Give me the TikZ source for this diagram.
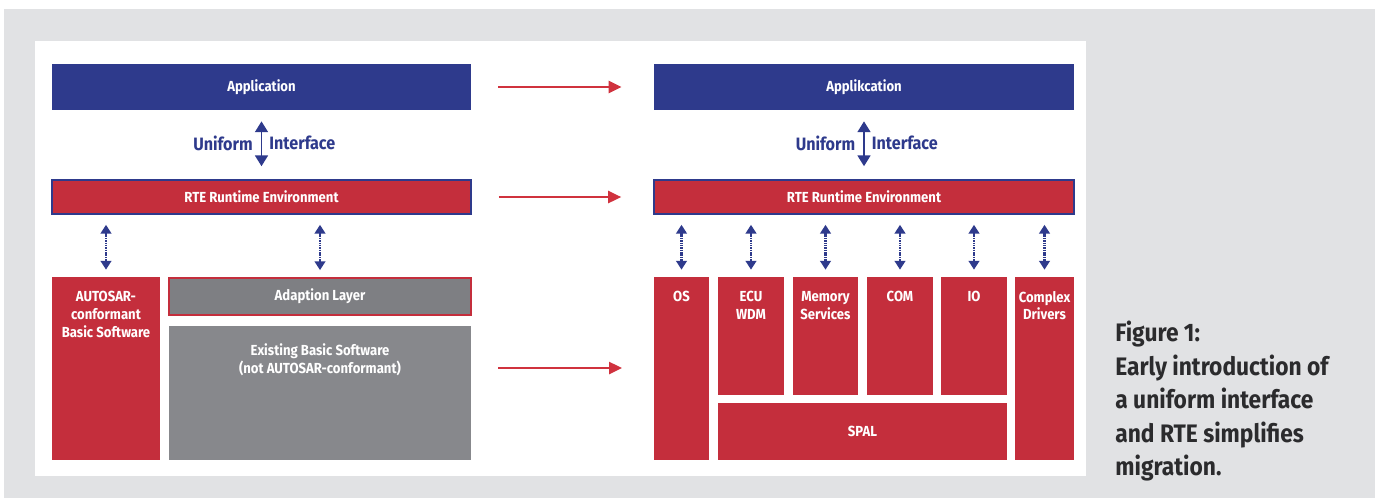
\documentclass[tikz,border=0pt]{standalone}
\usepackage{fontspec}
\setsansfont{Fira Sans}
\newfontfamily\boxfont[FakeStretch=0.9]{Fira Sans}
\newfontfamily\capfont[FakeStretch=0.9]{Fira Sans}
\usepackage{xcolor}
\usetikzlibrary{arrows.meta,positioning}

\definecolor{autoblue}{HTML}{2E3A8C}
\definecolor{autored}{HTML}{C42E3C}
\definecolor{arrowred}{HTML}{D0323E}
\definecolor{adaptgray}{HTML}{7E7F83}
\definecolor{basegray}{HTML}{87888C}
\definecolor{panelgray}{HTML}{E1E2E4}
\definecolor{captext}{HTML}{2B2B2D}

\begin{document}
\begin{tikzpicture}[
      x=0.02cm, y=-0.02cm,
      size/.style 2 args={
         minimum width=#1*0.02cm,
         minimum height=#2*0.02cm,
         inner sep=0pt},
      box_blue/.style={
         fill=autoblue,
         text=white,
         font=\boxfont\bfseries\fontsize{8.3}{10.2}\selectfont},
      box_rte/.style={
         fill=autored,
         draw=autoblue,
         line width=0.9pt,
         text=white,
         font=\boxfont\bfseries\fontsize{8.3}{10.2}\selectfont},
      box_red/.style={
         fill=autored,
         text=white,
         font=\boxfont\bfseries\fontsize{8.3}{10.2}\selectfont},
      box_adapt/.style={
         fill=adaptgray,
         draw=autored,
         line width=1pt,
         text=white,
         font=\boxfont\bfseries\fontsize{8.3}{10.2}\selectfont},
      box_old/.style={
         fill=basegray},
      blk_txt/.style={
         text=white,
         align=center,
         inner sep=0pt,
         font=\boxfont\bfseries\fontsize{8.3}{10.2}\selectfont},
      uni_txt/.style={
         text=autoblue,
         inner sep=0pt,
         font=\boxfont\bfseries\fontsize{10.2}{12}\selectfont},
      arrow_uni/.style={
         {Triangle[width=7.4pt,length=6.2pt]}-{Triangle[width=7.4pt,length=6.2pt]},
         draw=autoblue,
         line width=1pt,
         shorten <=0.22cm,
         shorten >=0.26cm},
      arrow_link/.style={
         {Triangle[width=6pt,length=5pt]}-{Triangle[width=6pt,length=5pt]},
         draw=autoblue,
         line width=1.3pt,
         dash pattern=on 0.9pt off 0.45pt,
         shorten <=0.2cm,
         shorten >=0.14cm},
      arrow_mig/.style={
         -{Triangle[width=6.8pt,length=7.4pt]},
         draw=arrowred,
         line width=1.5pt}
]
      \useasboundingbox (0,0) rectangle (1375,498);
      % backdrop
      \fill[panelgray] (4,9) rectangle (1375,498);
      \fill[white] (35,41) rectangle (1086,476);

      %old structure
      \node[box_blue, size={419}{46}] (app) at (261.5,87) {Application};
      \node[box_rte, size={419}{34}] (rte) at (261.5,197) {RTE Runtime Environment};
      \node[box_red, size={108}{183}] (bsw) at (106,368.5) {};
      \node[blk_txt, below=0.28cm of bsw.north] (bsw_txt) {AUTOSAR-\\conformant\\Basic Software};
      \node[box_adapt, size={302}{37}] (adapt) at (320,296.5) {Adaption Layer};
      \node[box_old, size={302}{134}] (old) at (320,393) {};
      \node[blk_txt, below=0.36cm of old.north] (old_txt) {Existing Basic Software\\(not AUTOSAR-conformant)};

      %new structure
      \node[box_blue, size={420}{46}] (app2) at (864,87) {Applikcation};
      \node[box_rte, size={420}{34}] (rte2) at (864,197) {RTE Runtime Environment};
      \node[box_red, size={55}{183}] (os) at (681.5,368.5) {};
      \node[box_red, size={66}{118}] (ecu) at (751,336) {};
      \node[box_red, size={65}{118}] (mem) at (825.5,336) {};
      \node[box_red, size={66}{118}] (com) at (900,336) {};
      \node[box_red, size={66}{118}] (io) at (974,336) {};
      \node[box_red, size={59}{183}] (cdrv) at (1044.5,368.5) {};
      \node[box_red, size={289}{57}] (spal) at (862.5,431.5) {SPAL};

      \foreach \b/\txt in {%block/text
        os/OS,
        ecu/ECU\\WDM,
        mem/Memory\\Services,
        com/COM,
        io/IO,
        cdrv/Complex\\Drivers}
        \node[blk_txt, below=0.28cm of \b.north] (\b_txt) {\txt};

      %interfaces
      \draw[arrow_uni] (app.south) -- node[uni_txt, left=4.5pt, yshift=1pt] (uni_l) {Uniform}
                        node[uni_txt, right=4pt, yshift=1pt] (uni_r) {Interface} (rte.north);
      \draw[arrow_uni] (app2.south) -- node[uni_txt, left=4.5pt, yshift=1pt] (uni2_l) {Uniform}
                        node[uni_txt, right=4pt, yshift=1pt] (uni2_r) {Interface} (rte2.north);

      \foreach \b in {bsw,adapt}
        \draw[arrow_link] (rte.south -| \b.north) -- (\b.north);
      \foreach \b in {os,ecu,mem,com,io,cdrv}
        \draw[arrow_link] (rte2.south -| \b.north) -- (\b.north);

      %migration
      \coordinate (mig_a) at (498,368);
      \coordinate (mig_b) at (622,368);
      \draw[arrow_mig, shorten <=0.54cm, shorten >=0.64cm] (app) -- (app2);
      \draw[arrow_mig, shorten <=0.54cm, shorten >=0.64cm] (rte) -- (rte2);
      \draw[arrow_mig] (mig_a) -- (mig_b);

      %caption
      \node[anchor=north west, align=left, inner sep=0pt, text=captext,
            font=\capfont\bfseries\fontsize{14.4}{19}\selectfont] (cap) at (1115,321)
            {Figure 1:\\Early introduction of\\a uniform interface\\and RTE simplifies\\migration.};
\end{tikzpicture}
\end{document}
